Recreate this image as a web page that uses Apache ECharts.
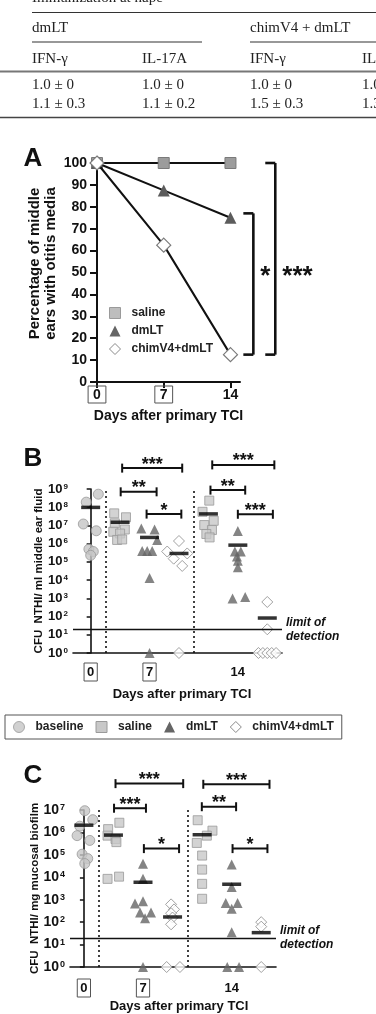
<!DOCTYPE html>
<html>
<head>
<meta charset="utf-8">
</head>
<body style="margin: 0; background: #fff">
<div id="container" style="width: 376px; height: 1014px"></div>
<script src="https://cdn.jsdelivr.net/npm/echarts@6/dist/echarts.min.js"></script>
<script>
// ---- table text (top of page) ----
const tableHead = ['dmLT', 'chimV4 + dmLT'];
const tableCols = ['IFN-\u03b3', 'IL-17A', 'IFN-\u03b3', 'IL-17A'];
const tableRow1 = ['1.0 \u00b1 0', '1.0 \u00b1 0', '1.0 \u00b1 0', '1.0 \u00b1 0'];
const tableRow2 = ['1.1 \u00b1 0.3', '1.1 \u00b1 0.2', '1.5 \u00b1 0.3', '1.3 \u00b1 0.2'];

// ---- panel A: % middle ears with otitis media ----
const days = [0, 7, 14];
const aSaline = [100, 100, 100];
const aDmlt = [100, 87.5, 75];
const aChim = [100, 62.5, 12.5];
const aXTicks = [0, 7, 14];

// ---- panel B: CFU NTHi / ml middle ear fluid ----
// group index: 0 baseline, 1..3 day 7 (saline, dmLT, chimV4), 4..6 day 14
const bBaseline = [1.9e8, 5.2e8, 1.2e7, 5.1e6, 5.0e5, 3.7e5, 2.3e5];
const bBaselineJit = [-0.15, 0.26, -0.25, 0.19, -0.06, 0.09, 0];
const bSaline7 = [4.6e7, 2.8e7, 1.3e7, 6.0e6, 4.5e6, 3.6e6, 1.6e6, 1.7e6];
const bSaline7Jit = [-0.2, 0.2, -0.18, 0.16, -0.23, 0, -0.1, 0.07];
const bDmlt7 = [6.9e6, 6.0e6, 1.6e6, 3.9e5, 3.9e5, 3.9e5, 1.3e4, 1];
const bDmlt7Jit = [-0.28, 0.17, 0.26, -0.25, -0.08, 0.09, 0, 0];
const bChim7 = [1.4e6, 3.7e5, 2.9e5, 1.5e5, 6e4, 1];
const bChim7Jit = [0, -0.4, 0.28, -0.18, 0.11, 0];
const bSaline14 = [2.3e8, 5.6e7, 1.8e7, 1.05e7, 5.6e6, 3.4e6, 2.2e6];
const bSaline14Jit = [0.03, -0.2, 0.18, -0.14, 0.12, -0.07, 0.04];
const bDmlt14 = [5.0e6, 3.7e5, 3.7e5, 2.0e5, 1.15e5, 5.0e4, 980, 1200];
const bDmlt14Jit = [0, -0.1, 0.1, -0.03, 0, 0, -0.18, 0.25];
const bChim14 = [630, 20, 1, 1, 1, 1, 1];
const bChim14Jit = [0, 0, -0.3, -0.15, 0, 0.15, 0.3];
const bMeans = [9.8e7, 1.5e7, 2.2e6, 2.9e5, 4.3e7, 8.3e5, 83];
const bBrackets = [[1.07, 3.11, 1.4e10], [1.02, 2.24, 7e8], [1.9, 3.08, 4.2e7],
                   [4.13, 6.24, 2.1e10], [4.07, 5.25, 8.7e8], [5.0, 6.19, 4.1e7]];
const bStars = ['***', '**', '*', '***', '**', '***'];

// ---- panel C: CFU NTHi / mg mucosal biofilm ----
const cBaseline = [9.3e6, 3.7e6, 1.9e6, 7.2e5, 4.4e5, 1.07e5, 6.8e4, 4.1e4];
const cBaselineJit = [0.03, 0.3, -0.14, -0.23, 0.2, -0.06, 0.13, 0.03];
const cSaline7 = [2.7e6, 1.4e6, 7.2e5, 5.1e5, 3.7e5, 8.5e3, 1.07e4];
const cSaline7Jit = [0.2, -0.18, -0.2, 0.07, 0.1, -0.2, 0.19];
const cDmlt7 = [4.0e4, 8.5e3, 680, 850, 270, 150, 270, 1];
const cDmlt7Jit = [0, 0, -0.27, 0, -0.1, 0.07, 0.27, 0];
const cChim7 = [620, 370, 250, 160, 80, 1, 1];
const cChim7Jit = [-0.05, 0.05, -0.05, 0, -0.05, -0.2, 0.25];
const cSaline14 = [3.5e6, 1.2e6, 7.2e5, 3.4e5, 9.3e4, 2.2e4, 5.1e3, 1.1e3];
const cSaline14Jit = [-0.15, 0.35, 0.16, -0.18, 0, 0, 0, 0];
const cDmlt14 = [3.7e4, 3.7e3, 720, 720, 400, 35, 1, 1];
const cDmlt14Jit = [0, 0, -0.2, 0.2, 0, 0, -0.15, 0.25];
const cChim14 = [100, 63, 1];
const cChim14Jit = [0, 0, 0];
const cMeans = [2.1e6, 7.6e5, 6.0e3, 170, 7.9e5, 4.9e3, 34];
const cBrackets = [[1.07, 3.36, 1.5e8], [1.02, 2.1, 1.2e7], [2.03, 3.22, 1.9e5],
                   [4.04, 6.28, 1.4e8], [3.99, 5.15, 1.4e7], [5.03, 6.21, 1.9e5]];
const cStars = ['***', '***', '*', '***', '**', '*'];

const groupTicks = [0, 2, 5];
const groupTickText = ['0', '7', '14'];
const limitOfDetection = 20;

const SANS = 'Liberation Sans, Arial, sans-serif';
const SERIF = 'Liberation Serif, Times New Roman, serif';

const sym = {
    baseline: {symbol: 'circle', size: 10, style: {color: '#c6c6c6', borderColor: '#9a9a9a', borderWidth: 1}},
    saline: {symbol: 'rect', size: 9, style: {color: '#c8c8c8', borderColor: '#9a9a9a', borderWidth: 1}},
    dmlt: {symbol: 'triangle', size: 10, style: {color: '#656565'}},
    chim: {symbol: 'diamond', size: 11, style: {color: '#ffffff', borderColor: '#8a8a8a', borderWidth: 1}}
};

function groupPts(g, vals, jit) {
    return vals.map((v, i) => [g + jit[i], v]);
}

function scatter(name, s, axis, data) {
    return {
        name: name, type: 'scatter', xAxisIndex: axis, yAxisIndex: axis,
        symbol: s.symbol, symbolSize: s.size, itemStyle: s.style, data: data,
        z: 3, silent: true
    };
}

function hBracketSeries(axis, brackets, stars) {
    return {
        type: 'custom', xAxisIndex: axis, yAxisIndex: axis, clip: false, silent: true, z: 6,
        encode: {x: [0, 1], y: 2},
        data: brackets,
        renderItem: function (params, api) {
            const a = api.coord([api.value(0), api.value(2)]);
            const b = api.coord([api.value(1), api.value(2)]);
            const h = 4.5;
            const st = {stroke: '#111', lineWidth: 2};
            return {
                type: 'group', children: [
                    {type: 'line', shape: {x1: a[0], y1: a[1], x2: b[0], y2: b[1]}, style: st},
                    {type: 'line', shape: {x1: a[0], y1: a[1] - h, x2: a[0], y2: a[1] + h}, style: st},
                    {type: 'line', shape: {x1: b[0], y1: b[1] - h, x2: b[0], y2: b[1] + h}, style: st},
                    {type: 'text', x: (a[0] + b[0]) / 2, y: a[1] - 3.5, style: {
                        text: stars[params.dataIndex], fill: '#111', fontSize: 18, fontWeight: 'bold',
                        fontFamily: SANS, align: 'center', verticalAlign: 'middle'}}
                ]
            };
        }
    };
}

function logLabel(size, sup) {
    return {
        formatter: function (v) {
            return '{b|10}{s|' + Math.round(Math.log10(v)) + '}';
        },
        margin: 5,
        rich: {
            b: {fontSize: size, fontWeight: 'bold', fontFamily: SANS, color: '#111'},
            s: {fontSize: sup, fontWeight: 'bold', fontFamily: SANS, color: '#111', verticalAlign: 'top', padding: [0, 0, 0, 1]}
        }
    };
}

function groupLabel(margin) {
    return {
        customValues: groupTicks, margin: margin,
        formatter: function (v) {
            const t = groupTickText[groupTicks.indexOf(v)];
            return t === '14' ? '{p|' + t + '}' : '{bx|' + t + '}';
        },
        rich: {
            bx: {fontSize: 13, fontWeight: 'bold', fontFamily: SANS, color: '#111',
                 borderColor: '#555', borderWidth: 1, padding: [3, 3, 2, 3]},
            p: {fontSize: 13, fontWeight: 'bold', fontFamily: SANS, color: '#111', padding: [3, 0, 2, 0]}
        }
    };
}

const axisLineBlack = {show: true, lineStyle: {color: '#111', width: 1.6}};

const markLines = function () {
    return {
        silent: true, symbol: ['none', 'none'], animation: false,
        data: [
            {xAxis: 0.5, lineStyle: {type: [2, 3], color: '#111', width: 1.6}, label: {show: false}},
            {xAxis: 3.5, lineStyle: {type: [2, 3], color: '#111', width: 1.6}, label: {show: false}},
            {yAxis: limitOfDetection, lineStyle: {type: 'solid', color: '#111', width: 1.3},
             label: {show: true, position: 'end', formatter: 'limit of\ndetection', distance: 4,
                     fontSize: 12, fontWeight: 'bold', fontStyle: 'italic', fontFamily: SANS,
                     color: '#111', lineHeight: 14, align: 'left'}}
        ]
    };
};

const graphics = [];
function gText(x, y, text, style) {
    graphics.push({type: 'text', x: x, y: y, silent: true,
        style: Object.assign({text: text, fill: '#222', fontFamily: SERIF, fontSize: 15,
            verticalAlign: 'middle'}, style || {})});
}
function gLine(x1, y1, x2, y2, w, c) {
    graphics.push({type: 'line', silent: true, shape: {x1: x1, y1: y1, x2: x2, y2: y2},
        style: {stroke: c || '#333', lineWidth: w || 1}});
}
// table
gText(32, -2, 'Immunization at nape');
gLine(32, 12.5, 376, 12.5, 1.2);
gText(32, 28, tableHead[0]);
gText(250, 28, tableHead[1]);
gLine(32, 42, 202, 42, 1.2);
gLine(250, 42, 376, 42, 1.2);
const colX = [32, 142, 250, 362];
tableCols.forEach((t, i) => gText(colX[i], 59, t));
gLine(0, 71.5, 376, 71.5, 2, '#777');
tableRow1.forEach((t, i) => gText(colX[i], 85, t));
tableRow2.forEach((t, i) => gText(colX[i], 104, t));
gLine(0, 117.5, 376, 117.5, 1.6, '#444');
// panel letters
[['A', 159], ['B', 459], ['C', 776]].forEach(function (p) {
    graphics.push({type: 'text', x: 33, y: p[1], silent: true, style: {text: p[0], fill: '#111',
        fontFamily: SANS, fontSize: 26, fontWeight: 'bold', align: 'center', verticalAlign: 'middle'}});
});

const chart = echarts.init(document.getElementById('container'), null, {renderer: 'canvas'});

const option = {
    animation: false,
    backgroundColor: '#fff',
    graphic: graphics,
    grid: [
        {left: 97, top: 163, width: 143, height: 219},
        {left: 73, top: 489, width: 209, height: 164},
        {left: 70, top: 810, width: 206, height: 163}
    ],
    legend: [
        {
            left: 104, top: 302, orient: 'vertical', itemWidth: 11, itemHeight: 11, itemGap: 6,
            selectedMode: false,
            textStyle: {fontSize: 12, fontWeight: 'bold', fontFamily: SANS, color: '#222', padding: [0, 0, 0, 6]},
            data: [
                {name: 'saline', icon: 'rect', itemStyle: {color: '#bdbdbd', borderColor: '#9a9a9a', borderWidth: 1}},
                {name: 'dmLT', icon: 'triangle', itemStyle: {color: '#656565'}},
                {name: 'chimV4+dmLT', icon: 'diamond', itemStyle: {color: '#fff', borderColor: '#8a8a8a', borderWidth: 1}}
            ]
        },
        {
            left: 5, top: 715, orient: 'horizontal', itemWidth: 11, itemHeight: 11, itemGap: 12,
            selectedMode: false, borderColor: '#555', borderWidth: 1, padding: [6, 8, 6, 8],
            textStyle: {fontSize: 12, fontWeight: 'bold', fontFamily: SANS, color: '#222', padding: [0, 0, 0, 6]},
            data: [
                {name: 'baseline', icon: 'circle', itemStyle: {color: '#c6c6c6', borderColor: '#9a9a9a', borderWidth: 1}},
                {name: 'saline', icon: 'rect', itemStyle: {color: '#c8c8c8', borderColor: '#9a9a9a', borderWidth: 1}},
                {name: 'dmLT', icon: 'triangle', itemStyle: {color: '#656565'}},
                {name: 'chimV4+dmLT', icon: 'diamond', itemStyle: {color: '#fff', borderColor: '#8a8a8a', borderWidth: 1}}
            ]
        }
    ],
    xAxis: [
        {
            gridIndex: 0, type: 'value', min: 0, max: 15,
            axisLine: {show: true, lineStyle: {color: '#111', width: 2}},
            axisTick: {show: true, customValues: aXTicks, length: 6, lineStyle: {color: '#111', width: 2}},
            axisLabel: {
                customValues: aXTicks, margin: 4,
                formatter: function (v) { return v === 14 ? '{p|14}' : '{bx|' + v + '}'; },
                rich: {
                    bx: {fontSize: 14, fontWeight: 'bold', fontFamily: SANS, color: '#111',
                         borderColor: '#555', borderWidth: 1, padding: [2, 5, 1, 5]},
                    p: {fontSize: 14, fontWeight: 'bold', fontFamily: SANS, color: '#111', padding: [2, 0, 1, 0]}
                }
            },
            splitLine: {show: false},
            name: 'Days after primary TCI', nameLocation: 'middle', nameGap: 27,
            nameTextStyle: {fontSize: 14, fontWeight: 'bold', fontFamily: SANS, color: '#111'}
        },
        {
            gridIndex: 1, type: 'value', min: -0.6, max: 6.5,
            axisLine: axisLineBlack, axisTick: {show: false},
            axisLabel: groupLabel(10), splitLine: {show: false},
            name: 'Days after primary TCI', nameLocation: 'middle', nameGap: 35,
            nameTextStyle: {fontSize: 13, fontWeight: 'bold', fontFamily: SANS, color: '#111', padding: [0, 0, 0, 9]}
        },
        {
            gridIndex: 2, type: 'value', min: -0.47, max: 6.5,
            axisLine: axisLineBlack, axisTick: {show: false},
            axisLabel: groupLabel(12), splitLine: {show: false},
            name: 'Days after primary TCI', nameLocation: 'middle', nameGap: 33,
            nameTextStyle: {fontSize: 13, fontWeight: 'bold', fontFamily: SANS, color: '#111', padding: [0, 0, 0, 12]}
        }
    ],
    yAxis: [
        {
            gridIndex: 0, type: 'value', min: 0, max: 100, interval: 10,
            axisLine: {show: true, lineStyle: {color: '#111', width: 2}},
            axisTick: {show: true, length: 7, lineStyle: {color: '#111', width: 2}},
            axisLabel: {margin: 10, fontSize: 14, fontWeight: 'bold', fontFamily: SANS, color: '#111'},
            splitLine: {show: false},
            name: 'Percentage of middle\nears with otitis media', nameLocation: 'middle', nameGap: 38,
            nameTextStyle: {fontSize: 15, fontWeight: 'bold', fontFamily: SANS, color: '#111', lineHeight: 16,
                            padding: [0, 0, 0, 18]}
        },
        {
            gridIndex: 1, type: 'log', logBase: 10, min: 1, max: 1e9,
            axisLine: axisLineBlack,
            axisTick: {show: true, length: 4, customValues: [1, 10, 1e2, 1e3, 1e4, 1e5, 1e6, 1e7, 1e8, 1e9], lineStyle: {color: '#111', width: 1.5}},
            axisLabel: Object.assign({customValues: [1, 10, 1e2, 1e3, 1e4, 1e5, 1e6, 1e7, 1e8, 1e9]}, logLabel(13, 8)),
            splitLine: {show: false},
            name: 'CFU  NTHI/ ml middle ear fluid', nameLocation: 'middle', nameGap: 28, nameMoveOverlap: false,
            nameTextStyle: {fontSize: 11.5, fontWeight: 'bold', fontFamily: SANS, color: '#111'}
        },
        {
            gridIndex: 2, type: 'log', logBase: 10, min: 1, max: 1e7,
            axisLine: axisLineBlack,
            axisTick: {show: true, length: 4, customValues: [1, 10, 1e2, 1e3, 1e4, 1e5, 1e6, 1e7], lineStyle: {color: '#111', width: 1.5}},
            axisLabel: Object.assign({customValues: [1, 10, 1e2, 1e3, 1e4, 1e5, 1e6, 1e7]}, logLabel(14, 9)),
            splitLine: {show: false},
            name: 'CFU  NTHI/ mg mucosal biofilm', nameLocation: 'middle', nameGap: 29, nameMoveOverlap: false,
            nameTextStyle: {fontSize: 11.5, fontWeight: 'bold', fontFamily: SANS, color: '#111'}
        }
    ],
    series: [
        // panel A
        {name: 'saline', type: 'line', xAxisIndex: 0, yAxisIndex: 0, data: days.map((d, i) => [d, aSaline[i]]),
         symbol: 'rect', symbolSize: 11, itemStyle: {color: '#9c9c9c', borderColor: '#7a7a7a', borderWidth: 1},
         lineStyle: {color: '#111', width: 2}, z: 3, silent: true},
        {name: 'dmLT', type: 'line', xAxisIndex: 0, yAxisIndex: 0, data: days.map((d, i) => [d, aDmlt[i]]),
         symbol: 'triangle', symbolSize: 12, itemStyle: {color: '#5c5c5c'},
         lineStyle: {color: '#111', width: 2}, z: 4, silent: true},
        {name: 'chimV4+dmLT', type: 'line', xAxisIndex: 0, yAxisIndex: 0, data: days.map((d, i) => [d, aChim[i]]),
         symbol: 'diamond', symbolSize: 14, itemStyle: {color: '#fff', borderColor: '#7a7a7a', borderWidth: 1.2},
         lineStyle: {color: '#111', width: 2}, z: 5, silent: true},
        {type: 'custom', xAxisIndex: 0, yAxisIndex: 0, clip: false, silent: true, z: 6,
         encode: {x: 0, y: [1, 2]},
         data: [[16.4, 12.5, 77, 50], [18.7, 12.5, 100, 50]],
         renderItem: function (params, api) {
             const top = api.coord([api.value(0), api.value(2)]);
             const bot = api.coord([api.value(0), api.value(1)]);
             const lab = api.coord([api.value(0), api.value(3)]);
             const st = {stroke: '#111', lineWidth: 2.6};
             const stars = ['*', '***'][params.dataIndex];
             return {type: 'group', children: [
                 {type: 'line', shape: {x1: top[0], y1: top[1], x2: bot[0], y2: bot[1]}, style: st},
                 {type: 'line', shape: {x1: top[0] - 10, y1: top[1], x2: top[0], y2: top[1]}, style: st},
                 {type: 'line', shape: {x1: bot[0] - 10, y1: bot[1], x2: bot[0], y2: bot[1]}, style: st},
                 {type: 'text', x: lab[0] + 7, y: lab[1] + 4, style: {text: stars, fill: '#111', fontSize: 26,
                  fontWeight: 'bold', fontFamily: SANS, align: 'left', verticalAlign: 'middle'}}
             ]};
         }},

        // panel B
        scatter('baseline', sym.baseline, 1, groupPts(0, bBaseline, bBaselineJit)),
        scatter('saline', sym.saline, 1, groupPts(1, bSaline7, bSaline7Jit).concat(groupPts(4, bSaline14, bSaline14Jit))),
        scatter('dmLT', sym.dmlt, 1, groupPts(2, bDmlt7, bDmlt7Jit).concat(groupPts(5, bDmlt14, bDmlt14Jit))),
        scatter('chimV4+dmLT', sym.chim, 1, groupPts(3, bChim7, bChim7Jit).concat(groupPts(6, bChim14, bChim14Jit))),
        {type: 'scatter', xAxisIndex: 1, yAxisIndex: 1, symbol: 'rect', symbolSize: [19, 3.5],
         itemStyle: {color: '#000'}, data: bMeans.map((m, i) => [i, m]), z: 5, silent: true,
         markLine: markLines()},
        hBracketSeries(1, bBrackets, bStars),

        // panel C
        scatter('baseline', sym.baseline, 2, groupPts(0, cBaseline, cBaselineJit)),
        scatter('saline', sym.saline, 2, groupPts(1, cSaline7, cSaline7Jit).concat(groupPts(4, cSaline14, cSaline14Jit))),
        scatter('dmLT', sym.dmlt, 2, groupPts(2, cDmlt7, cDmlt7Jit).concat(groupPts(5, cDmlt14, cDmlt14Jit))),
        scatter('chimV4+dmLT', sym.chim, 2, groupPts(3, cChim7, cChim7Jit).concat(groupPts(6, cChim14, cChim14Jit))),
        {type: 'scatter', xAxisIndex: 2, yAxisIndex: 2, symbol: 'rect', symbolSize: [19, 3.5],
         itemStyle: {color: '#000'}, data: cMeans.map((m, i) => [i, m]), z: 5, silent: true,
         markLine: markLines()},
        hBracketSeries(2, cBrackets, cStars)
    ]
};

chart.setOption(option);
</script>
</body>
</html>
